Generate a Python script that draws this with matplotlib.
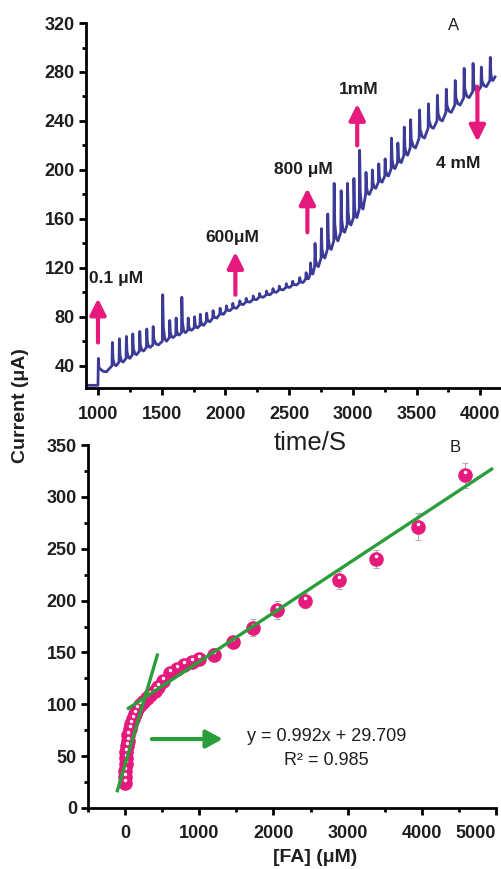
import matplotlib
matplotlib.use('Agg')
import matplotlib.pyplot as plt
from matplotlib.transforms import offset_copy
from matplotlib.ticker import MultipleLocator

plt.rcParams['font.family'] = ['Liberation Sans', 'DejaVu Sans']

# ---- panel A: amperometric trace ----
base_level = 24
t_start = 906
t_end = 4115
end_level = 276
spike_t = [1000, 1110, 1165, 1220, 1270, 1325, 1380, 1430, 1505, 1560,
           1610, 1655, 1705, 1755, 1800, 1850, 1900, 1955, 2005, 2055,
           2110, 2160, 2215, 2265, 2320, 2370, 2420, 2475, 2525, 2580,
           2630, 2665, 2700, 2750, 2800, 2850, 2905, 2955, 3005, 3050,
           3100, 3150, 3200, 3250, 3300, 3350, 3400, 3450, 3520, 3590,
           3660, 3730, 3800, 3870, 3940, 4005, 4075]
spike_peak = [46, 59, 62, 64, 66, 68, 70, 72, 98, 77,
              79, 96, 79, 80, 82, 83, 85, 87, 89, 91,
              93, 95, 97, 99, 101, 103, 105, 107, 109, 112,
              116, 124, 140, 152, 164, 189, 183, 189, 193, 216,
              198, 200, 205, 209, 226, 222, 235, 241, 249, 254,
              261, 266, 273, 283, 287, 284, 292]
spike_trough = [35, 40, 43, 46, 49, 52, 55, 57, 60, 63,
                65, 67, 69, 71, 73, 76, 79, 82, 85, 87,
                90, 92, 94, 96, 98, 100, 102, 104, 106, 108,
                111, 115, 121, 128, 135, 142, 149, 155, 161, 168,
                180, 185, 190, 195, 201, 206, 212, 218, 226, 234,
                240, 247, 253, 259, 264, 268, 273]

# arrows: (time, tail, head) and labels: (text, time, current, align)
arrow_t = [1000, 2078, 2643, 3034, 3977]
arrow_tail = [59, 98, 149, 220, 268]
arrow_head = [95, 133, 185, 254, 223]
label_txt = ['0.1 μM', '600μM', '800 μM', '1mM', '4 mM']
label_t = [932, 2055, 2610, 3047, 3828]
label_v = [111, 145, 200, 266, 205]
label_ha = ['left', 'center', 'center', 'center', 'center']

# ---- panel B: calibration ----
conc = [0, 2, 5, 8, 12, 18, 25, 35, 45, 60, 80, 100, 130, 160, 200, 240,
        290, 340, 400, 450, 510, 600, 700, 800, 900, 1000, 1200, 1450,
        1730, 2050, 2430, 2880, 3380, 3950, 4580]
current = [24, 30, 36, 42, 48, 54, 60, 65, 70, 76, 81, 86, 91, 95, 99, 102,
           106, 109, 113, 117, 122, 130, 134, 138, 141, 144, 148, 160,
           174, 191, 200, 220, 240, 271, 321]
current_err = [2, 2, 2, 2, 2, 2, 2, 2, 2, 2, 2, 2, 2, 2, 2, 2,
               2, 2, 3, 3, 4, 4, 4, 5, 5, 5, 6, 6,
               8, 9, 7, 9, 9, 13, 12]
fit_hi = (0.0471, 94.0, 45, 4942)      # slope, intercept, x from, x to
fit_lo = (0.2427, 41.9, -104, 435)

navy = '#3c3c98'
pink = '#e6197d'
green = '#2a9e3a'
dark = '#1e1e1e'

fig = plt.figure(figsize=(5.02, 8.69), dpi=100)
ax1 = fig.add_axes([0.1713, 0.5535, 0.8287, 0.42])
ax2 = fig.add_axes([0.1753, 0.0702, 0.8127, 0.4177])

# build trace polyline: sharp spike, partial fall, U-shaped recovery
tx = [t_start, spike_t[0]]
ty = [base_level, base_level]
for i, t in enumerate(spike_t):
    nxt = spike_t[i + 1] if i + 1 < len(spike_t) else t_end
    nxt_level = spike_trough[i + 1] if i + 1 < len(spike_t) else end_level
    amp = spike_peak[i] - spike_trough[i]
    gap = nxt - t
    tx += [t + 3, t + 8, t + 0.35 * gap, t + 0.6 * gap, nxt]
    ty += [spike_peak[i], spike_trough[i] + 0.3 * amp,
           spike_trough[i] + 0.05 * amp, spike_trough[i], nxt_level]
ax1.plot(tx, ty, color=navy, lw=2, solid_joinstyle='round')

for t, a, b in zip(arrow_t, arrow_tail, arrow_head):
    ax1.annotate('', xy=(t, b), xytext=(t, a),
                 arrowprops=dict(arrowstyle='-|>,head_width=0.24,head_length=0.48',
                                 color=pink, lw=3, mutation_scale=20,
                                 shrinkA=0, shrinkB=0))
for s, t, v, ha in zip(label_txt, label_t, label_v, label_ha):
    ax1.text(t, v, s, ha=ha, va='center', fontsize=12.5, fontweight='bold',
             color=dark)
ax1.text(3789, 318, 'A', ha='center', va='center', fontsize=12, color=dark)

ax1.set_xlim(906, 4170)
ax1.set_ylim(21.8, 320)
ax1.xaxis.set_major_locator(MultipleLocator(500))
ax1.xaxis.set_minor_locator(MultipleLocator(250))
ax1.yaxis.set_major_locator(MultipleLocator(40))
ax1.yaxis.set_minor_locator(MultipleLocator(20))

# calibration points
ax2.errorbar(conc, current, yerr=current_err, fmt='none', ecolor='#b0b0b0',
             elinewidth=0.8, capsize=2, capthick=0.8, zorder=2)
ax2.plot(conc, current, 'o', color=pink, ms=9.5, mec=pink, zorder=3)
hl = offset_copy(ax2.transData, fig=fig, x=0, y=3, units='dots')
ax2.plot(conc, current, 'o', color='white', ms=2.5, mec='none',
         transform=hl, zorder=4)

for k, b, x0, x1 in [fit_hi, fit_lo]:
    ax2.plot([x0, x1], [k * x0 + b, k * x1 + b], color=green, lw=2.4, zorder=5)

ax2.annotate('', xy=(1317, 66.5), xytext=(360, 66.5),
             arrowprops=dict(arrowstyle='-|>,head_width=0.27,head_length=0.5',
                             color=green, lw=3, mutation_scale=20,
                             shrinkA=0, shrinkB=0))
ax2.text(2716, 69, 'y = 0.992x + 29.709', ha='center', va='center',
         fontsize=13, color=dark)
ax2.text(2716, 46, 'R² = 0.985', ha='center', va='center',
         fontsize=13, color=dark)
ax2.text(4447, 348, 'B', ha='center', va='center', fontsize=12, color=dark,
         clip_on=False)

ax2.set_xlim(-500, 5000)
ax2.set_ylim(0, 350)
ax2.xaxis.set_major_locator(MultipleLocator(1000))
ax2.xaxis.set_minor_locator(MultipleLocator(500))
ax2.yaxis.set_major_locator(MultipleLocator(50))
ax2.yaxis.set_minor_locator(MultipleLocator(25))

for ax, xpad in [(ax1, 8), (ax2, 7)]:
    ax.spines['top'].set_visible(False)
    ax.spines['right'].set_visible(False)
    for side in ['left', 'bottom']:
        ax.spines[side].set_linewidth(2)
    ax.tick_params(which='major', length=5, width=2, color='black',
                   labelsize=13, labelcolor=dark)
    ax.tick_params(which='minor', length=3, width=2, color='black')
    ax.tick_params(axis='x', which='major', pad=xpad)
    ax.tick_params(axis='y', which='major', pad=3)
    for lab in ax.get_xticklabels() + ax.get_yticklabels():
        lab.set_fontweight('bold')

# last x label of panel B sits flush with the axis end
fig.canvas.draw()
for lab in ax2.get_xticklabels():
    if lab.get_text() == '5000':
        lab.set_horizontalalignment('right')

fig.text(21 / 502, 1 - 406 / 869, 'Current (μA)', rotation=90, ha='center',
         va='center', fontsize=14, fontweight='bold', color=dark)
fig.text(310 / 502, 1 - 443 / 869, 'time/S', ha='center', va='center',
         fontsize=18.5, color=dark)
fig.text(315 / 502, 1 - 857 / 869, '[FA] (μM)', ha='center', va='center',
         fontsize=14, fontweight='bold', color=dark)

fig.savefig('out.png', dpi=100)
